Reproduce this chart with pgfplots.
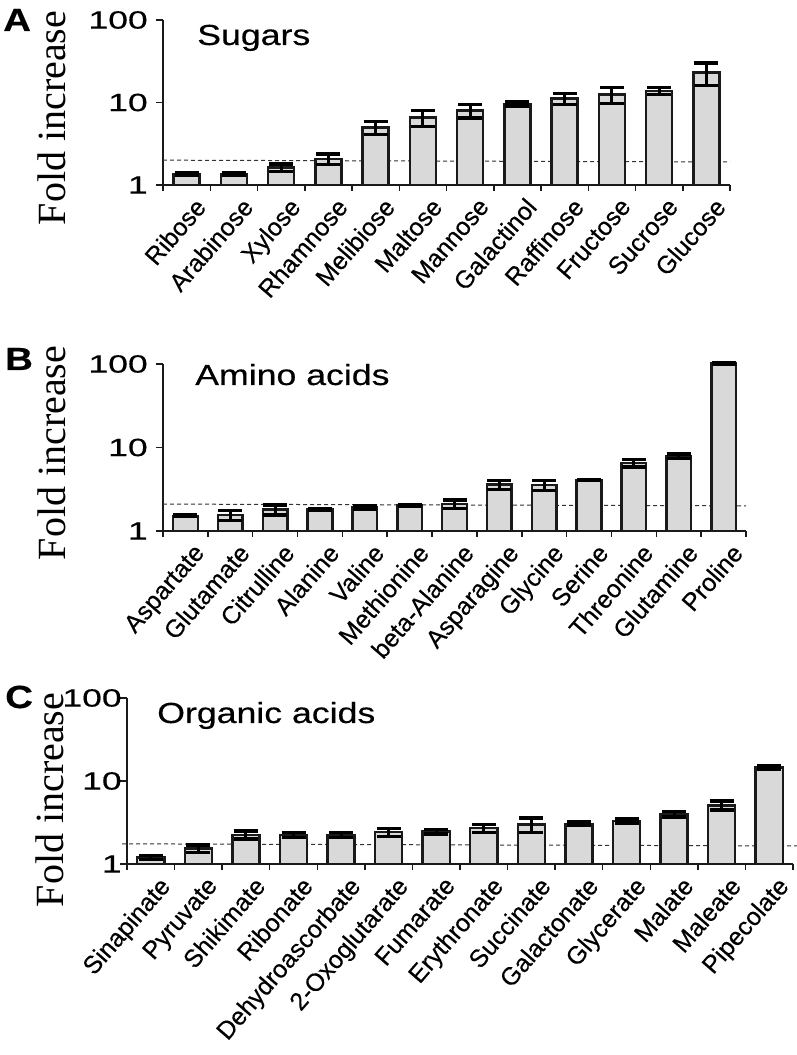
\documentclass[border=0pt]{standalone}
\usepackage{pgfplots}
\usepackage{pgfplotstable}
\pgfplotsset{compat=1.18}
\usepackage{fontspec}
\setmainfont{Liberation Sans}[FakeBold=0.35]
\newfontfamily\timesfont{Liberation Serif}
\definecolor{barfill}{HTML}{D9D9D9}
\definecolor{barline}{HTML}{1A1A1A}
\definecolor{dashc}{HTML}{333333}

\pgfplotstableread{
x val err
0 1.36 0.06
1 1.36 0.06
2 1.62 0.17
3 2.07 0.29
4 5.0 0.9
5 6.6 1.45
6 8.0 1.5
7 9.6 0.5
8 11.2 1.7
9 12.5 2.8
10 13.8 1.3
11 23 7
}\sugars

\pgfplotstableread{
x val err
0 1.52 0.03
1 1.55 0.22
2 1.8 0.25
3 1.8 0.05
4 1.9 0.1
5 2.02 0.03
6 2.1 0.25
7 3.6 0.45
8 3.55 0.5
9 4.1 0.05
10 6.5 0.7
11 7.9 0.5
12 102 2
}\amino

\pgfplotstableread{
x val err
0 1.2 0.07
1 1.53 0.16
2 2.25 0.26
3 2.25 0.15
4 2.25 0.15
5 2.42 0.27
6 2.45 0.15
7 2.7 0.3
8 3.0 0.6
9 3.05 0.15
10 3.3 0.2
11 4.0 0.3
12 5.1 0.65
13 14.5 0.6
}\organic

\pgfplotsset{
  every axis/.append style={
    scale only axis,
    anchor=south west,
    axis x line*=bottom, axis y line*=left,
    axis line style={line width=1.5bp, barline},
    ymin=1, ymax=100,
    ytick={1,10,100}, yticklabels={1,10,100},
    yminorticks=false,
    enlarge x limits=false,
    clip=false,
    tick align=outside,
    major tick length=7bp,
    minor tick length=6bp,
    tick style={line width=1.5bp, barline},
    major x tick style={draw=none},
    yticklabel style={font=\fontsize{25bp}{29bp}\selectfont, inner sep=0pt, anchor=east, xshift=-8bp, xscale=1.42},
    xticklabel style={font=\fontsize{25bp}{29bp}\selectfont, inner sep=0pt, xshift=7bp, yshift=-4bp, rotate=49, anchor=north east},
  },
}

\begin{document}
\begin{tikzpicture}
\path[use as bounding box] (0,0) rectangle (797bp,1055bp);

% Panel A
\begin{axis}[ymode=log, at={(163bp,870bp)}, width=567bp, height=165bp,
  xmin=-0.5, xmax=11.5,
  xtick={0,...,11},
  xticklabels={Ribose,Arabinose,Xylose,Rhamnose,Melibiose,Maltose,Mannose,Galactinol,Raffinose,Fructose,Sucrose,Glucose},
  minor xtick={-0.5,0.5,...,11.5}]
\addplot[sharp plot, no marks, dashc, line width=1bp, dash pattern=on 4bp off 3bp] coordinates {(-0.5,2.0) (11.5,1.9)};
\addplot[ybar, bar width=0.55, fill=barfill, draw=barline, line width=2.5bp,
  error bars/.cd, y dir=both, y explicit,
  error bar style={line width=3bp, black},
  error mark options={rotate=90, mark size=12bp, line width=3.5bp, black}]
  table[x=x, y=val, y error=err] {\sugars};
\end{axis}

% Panel B
\begin{axis}[ymode=log, at={(163bp,524bp)}, width=583bp, height=167bp,
  xmin=-0.5, xmax=12.5,
  xtick={0,...,12},
  xticklabels={Aspartate,Glutamate,Citrulline,Alanine,Valine,Methionine,beta-Alanine,Asparagine,Glycine,Serine,Threonine,Glutamine,Proline},
  minor xtick={-0.5,0.5,...,12.5}]
\addplot[sharp plot, no marks, dashc, line width=1bp, dash pattern=on 4bp off 3bp] coordinates {(-0.5,2.1) (12.5,2.0)};
\addplot[ybar, bar width=0.55, fill=barfill, draw=barline, line width=2.5bp,
  error bars/.cd, y dir=both, y explicit,
  error bar style={line width=3bp, black},
  error mark options={rotate=90, mark size=12bp, line width=3.5bp, black}]
  table[x=x, y=val, y error=err] {\amino};
\end{axis}

% Panel C
\begin{axis}[ymode=log, at={(127bp,191bp)}, width=666bp, height=166bp,
  xmin=-0.5, xmax=13.5,
  yticklabel style={xshift=7bp},
  xtick={0,...,13},
  xticklabels={Sinapinate,Pyruvate,Shikimate,Ribonate,Dehydroascorbate,2-Oxoglutarate,Fumarate,Erythronate,Succinate,Galactonate,Glycerate,Malate,Maleate,Pipecolate},
  minor xtick={-0.5,0.5,...,13.5}]
\addplot[sharp plot, no marks, dashc, line width=1bp, dash pattern=on 4bp off 3bp] coordinates {(-0.6,1.75) (13.6,1.65)};
\addplot[ybar, bar width=0.57, fill=barfill, draw=barline, line width=2.5bp,
  error bars/.cd, y dir=both, y explicit,
  error bar style={line width=3bp, black},
  error mark options={rotate=90, mark size=12bp, line width=3.5bp, black}]
  table[x=x, y=val, y error=err] {\organic};
\end{axis}

% panel letters
\node[anchor=base west, inner sep=0pt, xscale=1.2, font=\fontsize{32bp}{36bp}\selectfont\bfseries] at (3bp,1024bp) {A};
\node[anchor=base west, inner sep=0pt, xscale=1.2, font=\fontsize{32bp}{36bp}\selectfont\bfseries] at (5bp,685bp) {B};
\node[anchor=base west, inner sep=0pt, xscale=1.2, font=\fontsize{32bp}{36bp}\selectfont\bfseries] at (5bp,347bp) {C};

% titles
\node[anchor=base west, inner sep=0pt, xscale=1.23, font=\fontsize{29bp}{33bp}\selectfont] at (197bp,1010bp) {Sugars};
\node[anchor=base west, inner sep=0pt, xscale=1.23, font=\fontsize{29bp}{33bp}\selectfont] at (195bp,670bp) {Amino acids};
\node[anchor=base west, inner sep=0pt, xscale=1.23, font=\fontsize{29bp}{33bp}\selectfont] at (157bp,332bp) {Organic acids};

% y labels
\node[anchor=base, inner sep=0pt, rotate=90, font=\fontsize{40bp}{44bp}\selectfont\timesfont] at (65bp,937bp) {Fold increase};
\node[anchor=base, inner sep=0pt, rotate=90, font=\fontsize{40bp}{44bp}\selectfont\timesfont] at (65bp,602bp) {Fold increase};
\node[anchor=base, inner sep=0pt, rotate=90, font=\fontsize{40bp}{44bp}\selectfont\timesfont] at (63bp,255bp) {Fold increase};
\end{tikzpicture}
\end{document}
